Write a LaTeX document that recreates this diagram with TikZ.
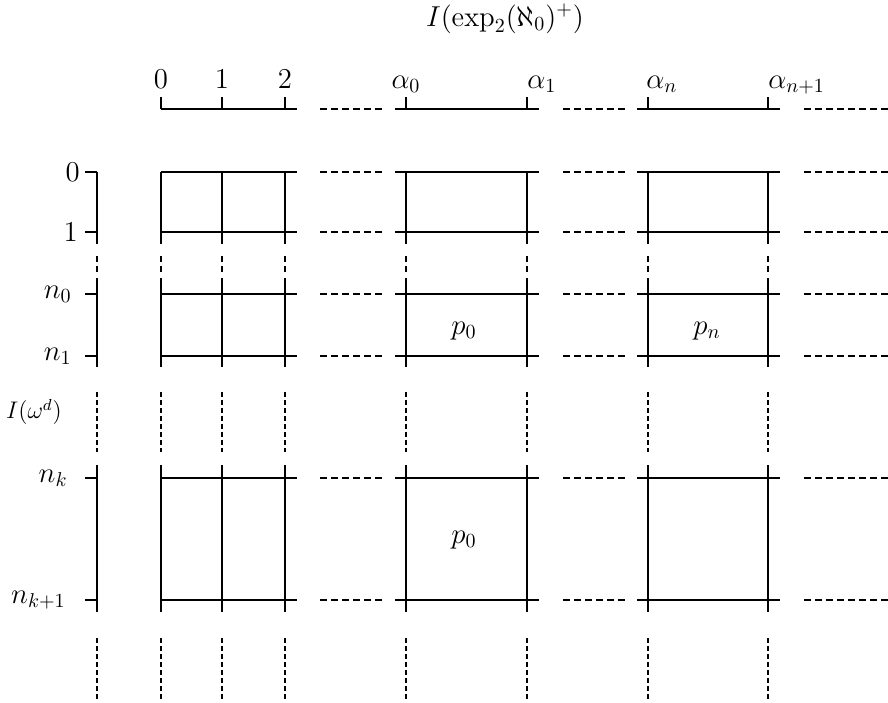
\documentclass[tikz,border=0pt]{standalone}
\usepackage{amsmath}
\usepackage{amssymb}
\usepackage{tikz}
\usetikzlibrary{positioning}
\tikzset{
  % Solid grid line
  gline/.style={line width=1pt,line cap=butt},
  % Dashed horizontal continuation
  hdash/.style={line width=1pt,dash pattern=on 3.5pt off 2pt},
  % Dashed vertical continuation
  vdash/.style={line width=1pt,dash pattern=on 2.5pt off 1.5pt},
  % Short dashed gap between first row groups
  sdash/.style={line width=1pt,dash pattern=on 3pt off 2pt},
  % Labels
  lbl/.style={font=\Large,inner sep=0pt},
}

\begin{document}
\begin{tikzpicture}[x=0.5pt,y=-0.5pt]
  \useasboundingbox (0,0) rectangle (888,702);

  % Title
  \node[lbl,anchor=base] (title) at (505,26) {$I(\exp_2(\aleph_0)^+)$};

  % Top axis labels
  \node[lbl,anchor=base] (t0) at (161,88) {$0$};
  \node[lbl,anchor=base] (t1) at (222,88) {$1$};
  \node[lbl,anchor=base] (t2) at (285,88) {$2$};
  \node[lbl,anchor=base] (ta0) at (406,88) {$\alpha_0$};
  \node[lbl,anchor=base west] (ta1) at (527,88) {$\alpha_1$};
  \node[lbl,anchor=base west] (tan) at (646,88) {$\alpha_n$};
  \node[lbl,anchor=base west] (tan1) at (768,88) {$\alpha_{n+1}$};

  % Top axis ticks
  \foreach \x in {161,222,285,406,527,648,768}
    \draw[gline] (\x,97) -- (\x,109);

  % Left axis labels
  \node[lbl,anchor=east] (l0) at (80,172) {$0$};
  \node[lbl,anchor=east] (l1) at (78,232) {$1$};
  \node[lbl,anchor=east] (ln0) at (72,294) {$n_0$};
  \node[lbl,anchor=east] (ln1) at (72,356) {$n_1$};
  \node[lbl,font=\large] (lI) at (34,412) {$I(\omega^d)$};
  \node[lbl,anchor=east] (lnk) at (68,478) {$n_k$};
  \node[lbl,anchor=east] (lnk1) at (66,600) {$n_{k+1}$};

  % Left axis ticks
  \foreach \y in {172,232,294,356,478,600}
    \draw[gline] (85,\y) -- (97,\y);

  % Horizontal lines (top axis and grid rows)
  \foreach \y in {109,172,232,294,356,478,600} {
    \draw[gline] (161,\y) -- (297,\y);
    \draw[hdash] (320,\y) -- (383,\y);
    \draw[gline] (395,\y) -- (539,\y);
    \draw[hdash] (563,\y) -- (626,\y);
    \draw[gline] (637,\y) -- (780,\y);
    \draw[hdash] (804,\y) -- (888,\y);
  }

  % Vertical lines (left axis and grid columns)
  \foreach \x in {97,161,222,285,406,527,648,768} {
    \draw[gline] (\x,172) -- (\x,244);
    \draw[sdash] (\x,256) -- (\x,274);
    \draw[gline] (\x,278) -- (\x,367);
    \draw[vdash] (\x,392) -- (\x,452);
    \draw[gline] (\x,465) -- (\x,612);
    \draw[vdash] (\x,638) -- (\x,702);
  }

  % Cell labels
  \node[lbl] (p0a) at (464,331) {$p_0$};
  \node[lbl] (pn) at (707,331) {$p_n$};
  \node[lbl] (p0b) at (464,540) {$p_0$};
\end{tikzpicture}
\end{document}
